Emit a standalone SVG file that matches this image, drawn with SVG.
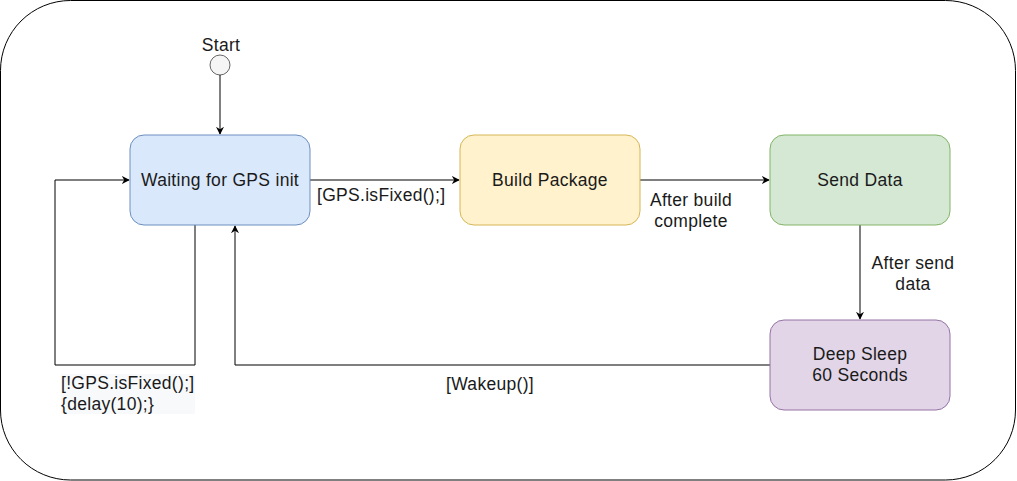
<svg xmlns="http://www.w3.org/2000/svg" width="1017" height="481" viewBox="0 0 1017 481">
<style>
text{font-family:"Liberation Sans",Arial,sans-serif;font-size:17.5px;letter-spacing:0.3px;fill:#1a1a1a}
.c{text-anchor:middle}
.e{fill:none;stroke:#000;stroke-width:1}
</style>
<defs>
<marker id="a" viewBox="0 0 10 10" refX="9" refY="5" markerWidth="8" markerHeight="8" orient="auto" markerUnits="userSpaceOnUse">
<path d="M0,0 L10,5 L0,10 L3,5 Z" fill="#000"/>
</marker>
</defs>
<rect id="frame" x="0.5" y="0.5" width="1015" height="479.5" rx="70" ry="70" fill="#fff" stroke="#000"/>
<g id="start">
<circle cx="220" cy="65" r="10" fill="#f5f5f5" stroke="#666"/>
<text class="c" x="221" y="51">Start</text>
</g>
<g id="connectors">
<path class="e" d="M220,75 V134" marker-end="url(#a)"/>
<path class="e" d="M310,180 H459" marker-end="url(#a)"/>
<path class="e" d="M640,180 H769" marker-end="url(#a)"/>
<path class="e" d="M860,225 V319" marker-end="url(#a)"/>
<path class="e" d="M770,365 H235 V226" marker-end="url(#a)"/>
<path class="e" d="M195,225 V365 H55 V180 H129" marker-end="url(#a)"/>
<text x="317" y="201">[GPS.isFixed();]</text>
<text class="c" x="691" y="206">After build</text>
<text class="c" x="691" y="227">complete</text>
<text class="c" x="913" y="269">After send</text>
<text class="c" x="913" y="290">data</text>
<text class="c" x="490" y="390">[Wakeup()]</text>
<rect x="61" y="374" width="134" height="40" fill="#f8f9fa"/>
<text x="61" y="389">[!GPS.isFixed();]</text>
<text x="61" y="410">{delay(10);}</text>
</g>
<g id="waiting">
<rect x="130" y="135" width="180" height="90" rx="14" fill="#dae8fc" stroke="#6c8ebf"/>
<text class="c" x="220" y="186">Waiting for GPS init</text>
</g>
<g id="build">
<rect x="460" y="135" width="180" height="90" rx="14" fill="#fff2cc" stroke="#d6b656"/>
<text class="c" x="550" y="186">Build Package</text>
</g>
<g id="send">
<rect x="770" y="135" width="180" height="90" rx="14" fill="#d5e8d4" stroke="#82b366"/>
<text class="c" x="860" y="186">Send Data</text>
</g>
<g id="sleep">
<rect x="770" y="320" width="180" height="90" rx="14" fill="#e1d5e7" stroke="#9673a6"/>
<text class="c" x="860" y="360">Deep Sleep</text>
<text class="c" x="860" y="381">60 Seconds</text>
</g>
</svg>
